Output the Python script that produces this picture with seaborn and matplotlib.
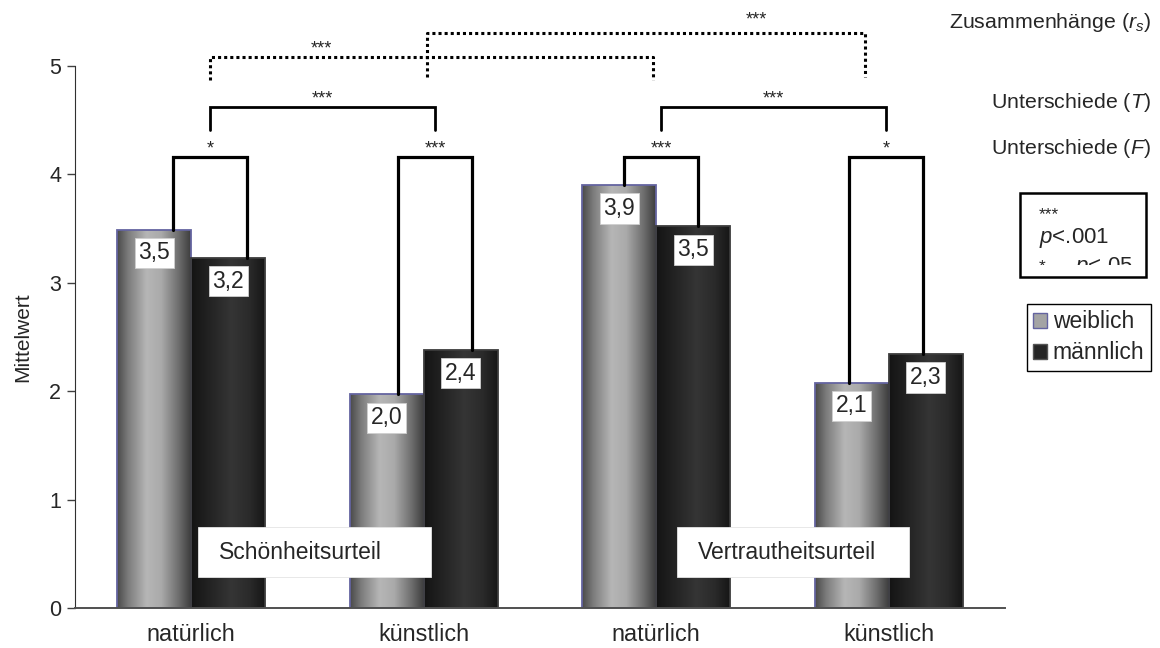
import numpy as np
import pandas as pd
import matplotlib.pyplot as plt
import seaborn as sns
from matplotlib.colors import LinearSegmentedColormap
from matplotlib.patches import Rectangle, Patch

# Daten
bedingungen = ['Schönheit natürlich', 'Schönheit künstlich',
               'Vertrautheit natürlich', 'Vertrautheit künstlich']
tick_labels = ['natürlich', 'künstlich', 'natürlich', 'künstlich']
geschlechter = ['weiblich', 'männlich']
weiblich = [3.49, 1.97, 3.90, 2.08]
maennlich = [3.23, 2.38, 3.52, 2.34]
sterne_f = ['*', '***', '***', '*']
sterne_t = ['***', '***']
sterne_r = ['***', '***']
urteile = ['Schönheitsurteil', 'Vertrautheitsurteil']

df = pd.DataFrame({
    'Bedingung': bedingungen * 2,
    'Mittelwert': weiblich + maennlich,
    'Geschlecht': ['weiblich'] * 4 + ['männlich'] * 4,
})

sns.set_style('white')
plt.rcParams['font.family'] = ['Liberation Sans', 'DejaVu Sans']
plt.rcParams['mathtext.fontset'] = 'custom'
plt.rcParams['mathtext.rm'] = 'Liberation Sans'
plt.rcParams['mathtext.it'] = 'Liberation Sans:italic'

fig = plt.figure(figsize=(11.6, 6.48), dpi=100)
ax = fig.add_axes([75 / 1160, 40 / 648, 930 / 1160, 542 / 648])

sns.barplot(data=df, x='Bedingung', y='Mittelwert', hue='Geschlecht',
            order=bedingungen, hue_order=geschlechter,
            palette=['#a0a0a0', '#252525'], width=0.636, saturation=1,
            legend=False, ax=ax)

# Farbverlauf in den Balken
cmaps = {
    'weiblich': LinearSegmentedColormap.from_list('w', [
        (0, '#4a4a4a'), (0.15, '#7c7c7c'), (0.4, '#b6b6b6'),
        (0.6, '#aaaaaa'), (0.85, '#6a6a6a'), (1, '#3e3e3e')]),
    'männlich': LinearSegmentedColormap.from_list('m', [
        (0, '#141414'), (0.3, '#262626'), (0.55, '#353535'),
        (0.8, '#2a2a2a'), (1, '#161616')]),
}
kanten = {'weiblich': '#6464a0', 'männlich': '#3c3c3c'}
verlauf = np.linspace(0, 1, 200)[np.newaxis, :]

for g, cont in zip(geschlechter, ax.containers):
    for p in cont.patches:
        x0, w, h = p.get_x(), p.get_width(), p.get_height()
        im = ax.imshow(verlauf, extent=(x0, x0 + w, 0, h), aspect='auto',
                       cmap=cmaps[g], interpolation='bicubic', zorder=2)
        im.set_clip_path(p)
        p.set_facecolor('none')
        p.set_edgecolor(kanten[g])
        p.set_linewidth(1.3)
        p.set_zorder(2.5)
        ax.text(x0 + w / 2, h - 0.215, f'{h:.1f}'.replace('.', ','),
                ha='center', va='center', fontsize=16.5, zorder=6,
                bbox=dict(boxstyle='square,pad=0.16', fc='white',
                          ec='#cfcfcf', lw=0.6))

ax.set_xlim(-0.5, 3.5)
ax.set_ylim(0, 5)
ax.set_yticks(range(6))
ax.set_xticks(range(4))
ax.set_xticklabels(tick_labels, fontsize=16.8)
ax.set_xlabel('')
ax.set_ylabel('Mittelwert', fontsize=15, labelpad=12)
ax.tick_params(axis='x', length=0, pad=11)
ax.tick_params(axis='y', left=True, length=6, width=1, color='#404040',
               labelsize=15.5, pad=4)
sns.despine(ax=ax)
ax.spines['left'].set_color('#303030')
ax.spines['bottom'].set_color('#505050')
ax.spines['bottom'].set_linewidth(1.4)

# Urteil-Boxen
for x0, x1, txt in [(0.03, 1.03, urteile[0]), (2.09, 3.085, urteile[1])]:
    ax.add_patch(Rectangle((x0, 0.286), x1 - x0, 0.46, fc='white',
                           ec='#e4e4e4', lw=0.6, zorder=5))
    ax.text(x0 + 0.09, 0.516, txt, ha='left', va='center', fontsize=16.5,
            zorder=6)

# Unterschiede (F): weiblich vs. männlich
verschiebung = [0.08, 0.05, 0.02, -0.01]
f_top = 4.16
f_mitten = []
for i in range(4):
    links = i - 0.159 + verschiebung[i]
    rechts = i + 0.159 + verschiebung[i]
    ax.plot([links, links, rechts, rechts],
            [weiblich[i], f_top, f_top, maennlich[i]],
            color='black', lw=2.3, solid_joinstyle='miter', zorder=4,
            clip_on=False)
    mitte = (links + rechts) / 2
    f_mitten.append(mitte)
    ax.text(mitte, f_top + 0.03, sterne_f[i], ha='center', va='baseline',
            fontsize=13, clip_on=False)

# Unterschiede (T): natürlich vs. künstlich
t_top, t_unten = 4.62, 4.41
for k, (a, b) in enumerate([(0, 1), (2, 3)]):
    xa, xb = f_mitten[a], f_mitten[b]
    ax.plot([xa, xa, xb, xb], [t_unten, t_top, t_top, t_unten],
            color='black', lw=2.0, solid_joinstyle='miter', clip_on=False)
    ax.text((xa + xb) / 2, t_top + 0.03, sterne_t[k], ha='center',
            va='baseline', fontsize=13, clip_on=False)

# Zusammenhänge (r_s), gepunktet
r_klammern = [(0.082, 1.985, 5.08, 4.87), (1.014, 2.896, 5.30, 4.90)]
r_sterne_pos = [(0.56, 5.12), (2.43, 5.38)]
for (xa, xb, top, unten), (sx, sy), s in zip(r_klammern, r_sterne_pos, sterne_r):
    ax.plot([xa, xa, xb, xb], [unten, top, top, unten], color='black',
            lw=2.2, linestyle=(0, (1, 1)), dash_capstyle='butt',
            clip_on=False)
    ax.text(sx, sy, s, ha='center', va='baseline', fontsize=13,
            clip_on=False)

# Beschriftungen rechts
fig.text(1151 / 1160, 1 - 22 / 648, r'Zusammenhänge $\mathit{(r_s)}$',
         ha='right', va='center', fontsize=15.4)
fig.text(1151 / 1160, 1 - 103 / 648, r'Unterschiede $\mathit{(T)}$',
         ha='right', va='center', fontsize=15.4)
fig.text(1151 / 1160, 1 - 148 / 648, r'Unterschiede $\mathit{(F)}$',
         ha='right', va='center', fontsize=15.4)

# Signifikanz-Box (unten abgeschnitten wie im Original)
fig.patches.append(Rectangle((1020 / 1160, 1 - 277 / 648), 126 / 1160,
                             84 / 648, transform=fig.transFigure,
                             fc='none', ec='black', lw=1.8))
ax_p = fig.add_axes([1030 / 1160, 1 - 265 / 648, 112 / 1160, 68 / 648])
ax_p.axis('off')
ax_p.set_xlim(0, 112)
ax_p.set_ylim(68, 0)
ax_p.text(9, 18, '***', fontsize=12.5, va='center', clip_on=True)
ax_p.text(9, 41, r'$\mathit{p}$<.001', fontsize=16, va='center',
          clip_on=True)
ax_p.text(9, 70, '*', fontsize=12.5, va='center', clip_on=True)
ax_p.text(45, 70, r'$\mathit{p}$<.05', fontsize=16, va='center',
          clip_on=True)

# Legende
handles = [Patch(facecolor='#a4a4a4', edgecolor=kanten['weiblich']),
           Patch(facecolor='#262626', edgecolor='#555555')]
fig.legend(handles, geschlechter, loc='upper left',
           bbox_to_anchor=(1027 / 1160, 1 - 304 / 648), fontsize=16.5,
           frameon=True, fancybox=False, edgecolor='black', framealpha=1,
           handlelength=0.6, handleheight=0.6, handletextpad=0.25,
           borderpad=0.28, labelspacing=0.35, borderaxespad=0)

fig.savefig('out.png', dpi=100)
